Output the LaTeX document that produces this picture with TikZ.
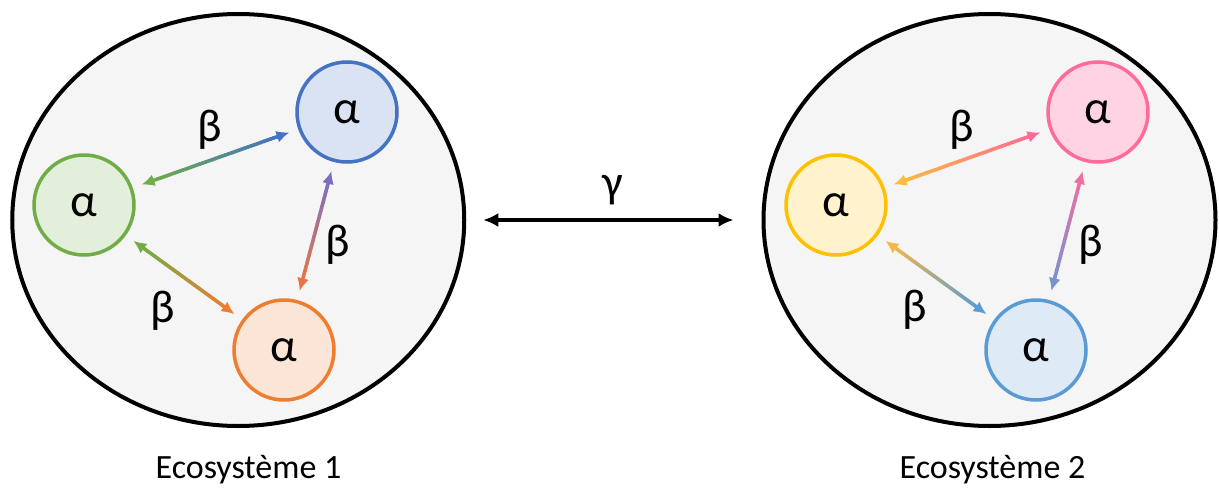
\documentclass[tikz,border=0pt]{standalone}
\usepackage{fontspec}
\setmainfont{Carlito}
\usetikzlibrary{shapes.geometric,arrows.meta,calc}
\definecolor{cgreen}{HTML}{70AD47}\definecolor{fgreen}{HTML}{E2EFDA}
\definecolor{cblue}{HTML}{4472C4}\definecolor{fblue}{HTML}{DAE3F3}
\definecolor{corange}{HTML}{ED7D31}\definecolor{forange}{HTML}{FBE5D6}
\definecolor{cyellow}{HTML}{FFC000}\definecolor{fyellow}{HTML}{FFF2CC}
\definecolor{cpink}{HTML}{FF6B9B}\definecolor{fpink}{HTML}{FFD3E4}
\definecolor{clblue}{HTML}{5B9BD5}\definecolor{flblue}{HTML}{DEEBF7}
\definecolor{ecofill}{HTML}{F5F5F5}
\definecolor{aviolet}{HTML}{7B6FC2}\definecolor{ared}{HTML}{E87548}
\definecolor{ayellow}{HTML}{FDBA40}\definecolor{apink}{HTML}{FF6B95}
\definecolor{apinkt}{HTML}{F06EA0}\definecolor{abluev}{HTML}{7A92D2}
\definecolor{ayellow2}{HTML}{F2B848}
\newcommand\gradlink[4]{%
  \coordinate (gs) at ($(#1)!61pt!(#2)$);
  \coordinate (ge) at ($(#2)!61pt!(#1)$);
  \coordinate (gsi) at ($(gs)!10pt!(ge)$);
  \coordinate (gei) at ($(ge)!10pt!(gs)$);
  \foreach \i in {1,...,40}{%
    \pgfmathtruncatemacro\pp{round(100*(\i-0.5)/40)}%
    \draw[link, draw={#4!\pp!#3}] ($(gsi)!{(\i-1)/40-0.005}!(gei)$) -- ($(gsi)!{\i/40+0.005}!(gei)$);
  }
  \draw[link, draw=#3, -{Latex[length=13pt,width=12pt]}] ($(gsi)!0.02!(gei)$) -- (gs);
  \draw[link, draw=#4, -{Latex[length=13pt,width=12pt]}] ($(gei)!0.02!(gsi)$) -- (ge);
}
\begin{document}
\begin{tikzpicture}[x=1pt,y=-1pt,
  eco/.style={ellipse, draw=black, line width=4pt, fill=ecofill, minimum width=452pt, minimum height=412pt, inner sep=0pt},
  sp/.style={circle, line width=3.5pt, minimum size=100pt, inner sep=0pt, font=\fontsize{47}{47}\selectfont},
  link/.style={line width=3.5pt},
  lbl/.style={font=\fontsize{46}{46}\selectfont, inner sep=0pt},
  ecocaption/.style={font=\fontsize{34}{34}\selectfont, anchor=base, inner sep=0pt}]
\useasboundingbox (0,0) rectangle (1219,490);
\node[eco] (eco1) at (238.25,220) {};
\node[eco] (eco2) at (989.5,220) {};
% ecosystem 1
\node[sp, draw=cgreen, fill=fgreen] (g1) at (84,205) {α};
\node[sp, draw=cblue, fill=fblue] (b1) at (347,112) {α};
\node[sp, draw=corange, fill=forange] (o1) at (284,350) {α};
\gradlink{g1}{b1}{cgreen}{cblue}
\gradlink{b1}{o1}{aviolet}{ared}
\gradlink{g1}{o1}{cgreen}{corange}
\node[lbl] (l1) at (210,130) {β};
\node[lbl] (l2) at (338,245) {β};
\node[lbl] (l3) at (163,311) {β};
% ecosystem 2
\node[sp, draw=cyellow, fill=fyellow] (y2) at (836,205) {α};
\node[sp, draw=cpink, fill=fpink] (p2) at (1098,112) {α};
\node[sp, draw=clblue, fill=flblue] (c2) at (1036,350) {α};
\gradlink{y2}{p2}{ayellow}{apink}
\gradlink{p2}{c2}{apinkt}{abluev}
\gradlink{y2}{c2}{ayellow2}{clblue}
\node[lbl] (r1) at (962,130) {β};
\node[lbl] (r2) at (1091,245) {β};
\node[lbl] (r3) at (915,310) {β};
% gamma
\draw[line width=3.5pt, {Latex[length=15pt,width=14pt]}-{Latex[length=15pt,width=14pt]}, shorten <=17pt, shorten >=28pt] (eco1.east) -- (eco2.west);
\node[lbl] (gam) at (613,190) {γ};
\node[ecocaption] (t1) at (248.5,478) {Ecosystème 1};
\node[ecocaption] (t2) at (992.5,478) {Ecosystème 2};
\end{tikzpicture}
\end{document}
